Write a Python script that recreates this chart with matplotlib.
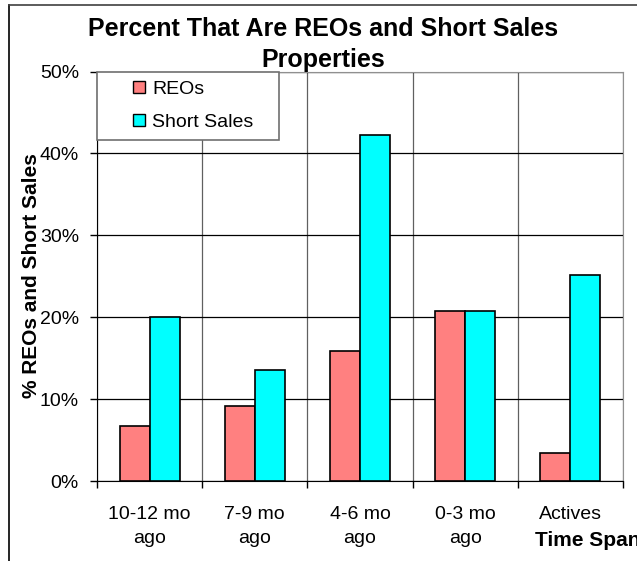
import matplotlib.pyplot as plt
from matplotlib.lines import Line2D
import numpy as np

plt.rcParams['font.family'] = ['Liberation Sans', 'DejaVu Sans']

# data
categories = ['10-12 mo\nago', '7-9 mo\nago', '4-6 mo\nago', '0-3 mo\nago', 'Actives']
reos = [6.7, 9.1, 15.9, 20.8, 3.4]
short_sales = [20.0, 13.6, 42.3, 20.8, 25.1]

fig = plt.figure(figsize=(6.37, 5.61), dpi=100)
ax = fig.add_axes([97/637, 1-481/561, (623-97)/637, (481-71.5)/561])

x = np.arange(len(categories))
w = 1/3.5
ax.bar(x - w/2, reos, w, color='#FF8080', edgecolor='black', linewidth=1.2, label='REOs', zorder=3)
ax.bar(x + w/2, short_sales, w, color='#00FFFF', edgecolor='black', linewidth=1.2, label='Short Sales', zorder=3)

ax.set_xlim(-0.5, len(categories) - 0.5)
ax.set_ylim(0, 50)
ax.set_yticks(range(0, 51, 10))
ax.set_yticklabels([f'{v}%' for v in range(0, 51, 10)])
ax.set_xticks(x)
ax.set_xticklabels(categories, linespacing=1.55)
ax.set_xticks(np.arange(-0.5, len(categories), 1), minor=True)
ax.tick_params(axis='x', which='major', length=0, pad=18, labelsize=14)
ax.tick_params(axis='x', which='minor', length=5, width=1, color='black')
ax.tick_params(axis='y', length=5, width=1, pad=8, labelsize=14)

ax.grid(axis='y', color='black', linewidth=0.9, zorder=1)
ax.grid(axis='x', which='minor', color='#606060', linewidth=0.9, zorder=1)

for s in ['top', 'right']:
    ax.spines[s].set_color('#909090')
for s in ['left', 'bottom']:
    ax.spines[s].set_color('black')

hl = [Line2D([], [], marker='s', linestyle='none', markersize=9, markerfacecolor='#FF8080', markeredgecolor='black'),
      Line2D([], [], marker='s', linestyle='none', markersize=9, markerfacecolor='#00FFFF', markeredgecolor='black')]
leg = ax.legend(hl, ['REOs', 'Short Sales'], loc='upper left', bbox_to_anchor=(0, 0.9, 182/526, 0.1),
                mode='expand', borderaxespad=0, fancybox=False, edgecolor='#707070', framealpha=1,
                fontsize=14, handlelength=3.4, handletextpad=-1.0, borderpad=0.45, labelspacing=0.8)
leg.get_frame().set_linewidth(1.2)
leg.set_zorder(5)

fig.text(0.507, 0.921, 'Percent That Are REOs and Short Sales\nProperties', ha='center', va='center',
         fontsize=18, fontweight='bold', linespacing=1.38)
fig.text(32/637, 0.508, '% REOs and Short Sales', rotation=90, ha='center', va='center',
         fontsize=15, fontweight='bold')
fig.text(535/637, 1-546/561, 'Time Span', ha='left', va='baseline', fontsize=15, fontweight='bold')

# chart area border
fig.add_artist(Line2D([9/637, 9/637], [0, 1-5/561], color='black', linewidth=1.2))
fig.add_artist(Line2D([9/637, 1], [1-5/561, 1-5/561], color='#404040', linewidth=1.2))

plt.savefig('out.png')
